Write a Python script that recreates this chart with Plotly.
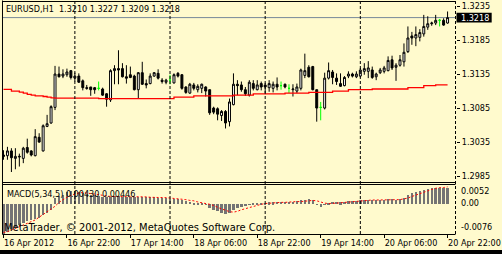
import plotly.graph_objects as go

# ---------------- data ----------------
symbol = "EURUSD,H1"

opens = [1.3016, 1.3015, 1.3022, 1.3011, 1.3013, 1.3011, 1.3027, 1.3022, 1.3015, 1.3042,
         1.3022, 1.3058, 1.3063, 1.3086, 1.3135, 1.3132, 1.3134, 1.3140, 1.3129, 1.3132,
         1.3125, 1.3115, 1.3116, 1.3115, 1.3114, 1.3113, 1.3106, 1.3097, 1.3140, 1.3143,
         1.3143, 1.3131, 1.3134, 1.3132, 1.3112, 1.3137, 1.3121, 1.3121, 1.3132, 1.3136,
         1.3126, 1.3123, 1.3126, 1.3122, 1.3136, 1.3134, 1.3116, 1.3107, 1.3119, 1.3112,
         1.3114, 1.3116, 1.3112, 1.3085, 1.3084, 1.3074, 1.3080, 1.3065, 1.3090, 1.3120,
         1.3119, 1.3112, 1.3104, 1.3121, 1.3112, 1.3121, 1.3119, 1.3115, 1.3114, 1.3120,
         1.3118, 1.3120, 1.3114, 1.3112, 1.3110, 1.3114, 1.3133, 1.3145, 1.3146, 1.3112,
         1.3086, 1.3085, 1.3129, 1.3138, 1.3129, 1.3121, 1.3118, 1.3132, 1.3135, 1.3131,
         1.3132, 1.3139, 1.3139, 1.3141, 1.3131, 1.3137, 1.3139, 1.3140, 1.3156, 1.3145,
         1.3148, 1.3153, 1.3168, 1.3191, 1.3188, 1.3189, 1.3194, 1.3204, 1.3209, 1.3210,
         1.3214, 1.3214, 1.3210]

highs = [1.3023, 1.3028, 1.3026, 1.3026, 1.3018, 1.3028, 1.3040, 1.3023, 1.3054, 1.3048,
         1.3061, 1.3075, 1.3089, 1.3147, 1.3146, 1.3142, 1.3143, 1.3141, 1.3137, 1.3136,
         1.3127, 1.3119, 1.3116, 1.3116, 1.3124, 1.3115, 1.3107, 1.3142, 1.3148, 1.3170,
         1.3151, 1.3148, 1.3146, 1.3134, 1.3138, 1.3153, 1.3127, 1.3136, 1.3138, 1.3142,
         1.3129, 1.3128, 1.3134, 1.3136, 1.3138, 1.3135, 1.3117, 1.3122, 1.3122, 1.3120,
         1.3121, 1.3117, 1.3112, 1.3087, 1.3086, 1.3082, 1.3082, 1.3099, 1.3136, 1.3126,
         1.3124, 1.3116, 1.3126, 1.3126, 1.3126, 1.3124, 1.3122, 1.3126, 1.3124, 1.3130,
         1.3124, 1.3121, 1.3120, 1.3120, 1.3121, 1.3143, 1.3165, 1.3148, 1.3147, 1.3112,
         1.3094, 1.3137, 1.3152, 1.3141, 1.3136, 1.3136, 1.3132, 1.3139, 1.3137, 1.3139,
         1.3144, 1.3151, 1.3154, 1.3146, 1.3137, 1.3144, 1.3147, 1.3161, 1.3162, 1.3151,
         1.3163, 1.3180, 1.3205, 1.3197, 1.3205, 1.3201, 1.3222, 1.3220, 1.3212, 1.3222,
         1.3216, 1.3217, 1.3227]

lows = [1.3009, 1.3009, 1.2991, 1.2995, 1.2999, 1.3004, 1.3018, 1.3014, 1.3014, 1.3034,
        1.3021, 1.3057, 1.3062, 1.3082, 1.3130, 1.3129, 1.3131, 1.3127, 1.3124, 1.3122,
        1.3111, 1.3112, 1.3103, 1.3106, 1.3111, 1.3103, 1.3087, 1.3094, 1.3120, 1.3120,
        1.3130, 1.3121, 1.3129, 1.3111, 1.3099, 1.3119, 1.3114, 1.3120, 1.3131, 1.3127,
        1.3121, 1.3120, 1.3120, 1.3121, 1.3130, 1.3112, 1.3106, 1.3106, 1.3111, 1.3108,
        1.3107, 1.3102, 1.3075, 1.3076, 1.3067, 1.3066, 1.3055, 1.3058, 1.3089, 1.3104,
        1.3109, 1.3103, 1.3102, 1.3111, 1.3111, 1.3111, 1.3107, 1.3109, 1.3108, 1.3111,
        1.3112, 1.3114, 1.3107, 1.3102, 1.3107, 1.3111, 1.3129, 1.3130, 1.3111, 1.3065,
        1.3067, 1.3083, 1.3127, 1.3120, 1.3119, 1.3116, 1.3117, 1.3129, 1.3130, 1.3129,
        1.3130, 1.3134, 1.3129, 1.3128, 1.3126, 1.3135, 1.3136, 1.3139, 1.3141, 1.3125,
        1.3146, 1.3146, 1.3166, 1.3178, 1.3176, 1.3183, 1.3190, 1.3200, 1.3206, 1.3207,
        1.3205, 1.3206, 1.3209]

closes = [1.3014, 1.3022, 1.3012, 1.3014, 1.3014, 1.3026, 1.3020, 1.3016, 1.3043, 1.3035,
          1.3059, 1.3062, 1.3087, 1.3135, 1.3131, 1.3135, 1.3138, 1.3130, 1.3132, 1.3123,
          1.3115, 1.3114, 1.3112, 1.3112, 1.3114, 1.3104, 1.3098, 1.3140, 1.3143, 1.3141,
          1.3131, 1.3129, 1.3130, 1.3112, 1.3137, 1.3120, 1.3119, 1.3132, 1.3137, 1.3129,
          1.3124, 1.3126, 1.3126, 1.3134, 1.3132, 1.3114, 1.3108, 1.3120, 1.3114, 1.3117,
          1.3120, 1.3110, 1.3078, 1.3079, 1.3076, 1.3080, 1.3063, 1.3094, 1.3120, 1.3118,
          1.3112, 1.3106, 1.3123, 1.3114, 1.3119, 1.3116, 1.3116, 1.3121, 1.3120, 1.3116,
          1.3118, 1.3116, 1.3114, 1.3113, 1.3116, 1.3141, 1.3140, 1.3131, 1.3112, 1.3085,
          1.3086, 1.3129, 1.3140, 1.3130, 1.3124, 1.3117, 1.3130, 1.3135, 1.3132, 1.3135,
          1.3141, 1.3143, 1.3144, 1.3130, 1.3135, 1.3141, 1.3144, 1.3155, 1.3144, 1.3148,
          1.3156, 1.3167, 1.3188, 1.3188, 1.3193, 1.3196, 1.3205, 1.3209, 1.3210, 1.3214,
          1.3214, 1.3207, 1.3218]

ma_values = [1.31125, 1.31125, 1.3110, 1.3110, 1.31085, 1.3107, 1.3105, 1.3104, 1.3103, 1.3103,
             1.3102, 1.3101, 1.3100, 1.30995, 1.30995, 1.30995, 1.30995, 1.30995, 1.30995, 1.30995,
             1.30995, 1.30995, 1.30995, 1.30995, 1.3099, 1.3099, 1.3099, 1.3099, 1.3099, 1.3099,
             1.3099, 1.3099, 1.3099, 1.3099, 1.3099, 1.3099, 1.3099, 1.3099, 1.3099, 1.3099,
             1.3099, 1.3099, 1.3099, 1.3101, 1.3101, 1.3101, 1.3101, 1.3101, 1.3103, 1.3103,
             1.3103, 1.3103, 1.3103, 1.3103, 1.3103, 1.3103, 1.3103, 1.3103, 1.3104, 1.3104,
             1.3104, 1.3104, 1.3104, 1.3106, 1.3106, 1.3106, 1.3106, 1.3106, 1.3106, 1.3106,
             1.3106, 1.3107, 1.3107, 1.3107, 1.3107, 1.3107, 1.3107, 1.3108, 1.3108, 1.3108,
             1.3108, 1.3108, 1.3108, 1.3110, 1.3110, 1.3110, 1.3110, 1.3112, 1.3112, 1.3112,
             1.3112, 1.3112, 1.3112, 1.3113, 1.3113, 1.3113, 1.3113, 1.3113, 1.3113, 1.3113,
             1.3113, 1.3113, 1.3115, 1.3115, 1.3115, 1.3115, 1.3118, 1.3118, 1.3118, 1.3119,
             1.3119, 1.3119, 1.3119]

macd_hist = [-0.0076, -0.0071, -0.0064, -0.0058, -0.0054, -0.0049, -0.0043, -0.0041, -0.0037, -0.0035,
             -0.0028, -0.0021, -0.0015, 0.0016, 0.0021, 0.0025, 0.0031, 0.0034, 0.0034, 0.0031,
             0.0029, 0.0027, 0.0025, 0.0023, 0.0021, 0.0020, 0.0018, 0.0020, 0.0021, 0.0021,
             0.0020, 0.0020, 0.0019, 0.0018, 0.0018, 0.0019, 0.0018, 0.0018, 0.0018, 0.0017,
             0.0016, 0.0015, 0.0014, 0.0014, 0.0013, 0.0011, 0.0008, 0.0006, 0.0003, 0.0002,
             0.0001, -0.0001, -0.0009, -0.0015, -0.0018, -0.0021, -0.0026, -0.0021, -0.0014, -0.0009,
             -0.0006, -0.0004, -0.0001, 0.0001, 0.0003, 0.0004, 0.0004, 0.0005, 0.0005, 0.0006,
             0.0006, 0.0007, 0.0007, 0.0007, 0.0008, 0.0010, 0.0012, 0.0014, 0.0010, -0.0001,
             -0.0007, -0.0001, 0.0004, 0.0006, 0.0006, 0.0005, 0.0006, 0.0008, 0.0009, 0.0009,
             0.0010, 0.0012, 0.0012, 0.0012, 0.0011, 0.0011, 0.0011, 0.0013, 0.0013, 0.0012,
             0.0013, 0.0016, 0.0023, 0.0028, 0.0031, 0.0033, 0.0037, 0.0040, 0.0042, 0.0043,
             0.0043, 0.0042, 0.0043]

macd_signal = [-0.0072, -0.0070, -0.0066, -0.0062, -0.0058, -0.0054, -0.0050, -0.0046, -0.0040, -0.0033,
               -0.0026, -0.0019, -0.0012, -0.0005, 0.0005, 0.0012, 0.0018, 0.0023, 0.0027, 0.0029,
               0.0030, 0.0029, 0.0028, 0.0026, 0.0025, 0.0023, 0.0021, 0.0020, 0.0020, 0.0020,
               0.0020, 0.0020, 0.0020, 0.0019, 0.0019, 0.0019, 0.0019, 0.0018, 0.0018, 0.0018,
               0.0017, 0.0017, 0.0016, 0.0015, 0.0014, 0.0014, 0.0012, 0.0010, 0.0009, 0.0006,
               0.0004, 0.0003, 0.0000, -0.0003, -0.0008, -0.0012, -0.0015, -0.0019, -0.0020, -0.0018,
               -0.0014, -0.0011, -0.0008, -0.0004, -0.0002, 0.0000, 0.0002, 0.0003, 0.0003, 0.0004,
               0.0005, 0.0005, 0.0006, 0.0006, 0.0007, 0.0007, 0.0008, 0.0009, 0.0010, 0.0009,
               0.0005, 0.0003, 0.0002, 0.0002, 0.0003, 0.0004, 0.0005, 0.0006, 0.0007, 0.0008,
               0.0009, 0.0009, 0.0010, 0.0011, 0.0011, 0.0011, 0.0011, 0.0012, 0.0012, 0.0012,
               0.0012, 0.0014, 0.0016, 0.0020, 0.0024, 0.0028, 0.0031, 0.0035, 0.0038, 0.0041,
               0.0043, 0.0043, 0.00446]

tick_bars = [0, 16, 32, 48, 64, 80, 96, 112]
tick_labels = ["16 Apr 2012", "16 Apr 22:00", "17 Apr 14:00", "18 Apr 06:00",
               "18 Apr 22:00", "19 Apr 14:00", "20 Apr 06:00", "20 Apr 22:00"]
day_breaks = [18, 42, 66, 90, 114]
price_ticks = [1.3235, 1.3185, 1.3135, 1.3085, 1.3035, 1.2985]
macd_ticks = [0.0052, 0.0, -0.0076]
macd_tick_labels = ["0.0052", "0.00", "-0.0076"]

n = len(closes)
assert len(opens) == n and len(highs) == n and len(lows) == n
assert len(ma_values) == n and len(macd_hist) == n and len(macd_signal) == n
idx = list(range(n))
bid = closes[-1]

# ---------------- layout geometry ----------------
BG = "#FFFACD"
FONT = "DejaVu Sans Condensed, Liberation Sans, Arial, sans-serif"
W, H = 502, 254
ML, MR, MT, MB = 2, 42, 1, 20
PW = W - ML - MR
PH = H - MT - MB


def py(p):  # pixel row -> paper y
    return (H - MB - p) / PH


def px(p):  # pixel column -> paper x
    return (p - ML) / PW


main_dom = [py(182), 1.0]
macd_dom = [0.0, py(184)]
y_range = [1.29763, 1.32424]
macd_range = [-0.0076, 0.0052]
x_range = [-0.375, -0.375 + PW / 4.0]

fig = go.Figure()

normal = [i for i in idx if abs(opens[i] - closes[i]) > 1e-9]
doji = [i for i in idx if abs(opens[i] - closes[i]) <= 1e-9]

fig.add_trace(go.Candlestick(
    x=normal,
    open=[opens[i] for i in normal], high=[highs[i] for i in normal],
    low=[lows[i] for i in normal], close=[closes[i] for i in normal],
    increasing=dict(line=dict(color="black", width=1), fillcolor="white"),
    decreasing=dict(line=dict(color="black", width=1), fillcolor="black"),
    whiskerwidth=0, showlegend=False, hoverinfo="skip", xaxis="x", yaxis="y"))
fig.add_trace(go.Candlestick(
    x=doji,
    open=[opens[i] for i in doji], high=[highs[i] for i in doji],
    low=[lows[i] for i in doji], close=[closes[i] for i in doji],
    increasing=dict(line=dict(color="#00FF00", width=1), fillcolor="#00FF00"),
    decreasing=dict(line=dict(color="#00FF00", width=1), fillcolor="#00FF00"),
    whiskerwidth=0, showlegend=False, hoverinfo="skip", xaxis="x", yaxis="y"))

fig.add_trace(go.Scatter(x=idx, y=ma_values, mode="lines",
                         line=dict(color="#FF0000", width=1.3, shape="hv"),
                         showlegend=False, hoverinfo="skip", xaxis="x", yaxis="y"))

fig.add_trace(go.Bar(x=idx, y=macd_hist, marker=dict(color="#747474", line=dict(width=0)),
                     width=0.6, showlegend=False, hoverinfo="skip", xaxis="x", yaxis="y2"))
fig.add_trace(go.Scatter(x=idx, y=macd_signal, mode="lines",
                         line=dict(color="#FF0000", width=1, dash="2px,2px"),
                         showlegend=False, hoverinfo="skip", xaxis="x", yaxis="y2"))

shapes = []
# bid line
shapes.append(dict(type="line", xref="x domain", x0=0, x1=1, yref="y", y0=bid, y1=bid,
                   line=dict(color="#778899", width=1), layer="below"))
# day separators
for d in day_breaks:
    shapes.append(dict(type="line", xref="x", x0=d, x1=d, yref="paper", y0=py(234), y1=py(1),
                       line=dict(color="black", width=1, dash="3px,2px"), layer="above"))
# window borders
border = dict(color="black", width=1)
shapes.append(dict(type="line", xref="paper", x0=px(2.5), x1=px(2.5), yref="paper",
                   y0=py(234.5), y1=py(0.5), line=border))
for row in (1.5, 182.5, 184.5, 234.5):
    shapes.append(dict(type="line", xref="paper", x0=px(2.5), x1=px(459.5), yref="paper",
                       y0=py(row), y1=py(row), line=border))
# black strip at the very bottom
shapes.append(dict(type="rect", xref="paper", x0=px(-5), x1=px(510), yref="paper",
                   y0=py(260), y1=py(250), fillcolor="black", line=dict(width=0)))
# bid price box on the right scale
ppu = 181.0 / (y_range[1] - y_range[0])
shapes.append(dict(type="rect", xref="paper", x0=px(460.5), x1=px(496), yref="y",
                   y0=bid - 4.8 / ppu, y1=bid + 4.8 / ppu, fillcolor="black", line=dict(width=0)))

tf = dict(family=FONT, size=9, color="black")
annotations = [
    dict(text=f"{symbol}\u00a0 {opens[-1]:.4f} {highs[-1]:.4f} {lows[-1]:.4f} {closes[-1]:.4f}",
         xref="paper", yref="paper", x=0, y=1, xanchor="left", yanchor="top",
         xshift=2, yshift=-1, showarrow=False, font=tf),
    dict(text=f"{bid:.4f}", xref="paper", yref="y", x=px(464), y=bid, xanchor="left",
         yanchor="middle", showarrow=False, borderpad=0,
         font=dict(family=FONT, size=9, color="white")),
    dict(text=f"MACD(5,34,5) {macd_hist[-1]:.5f} {macd_signal[-1]:.5f}",
         xref="paper", yref="paper", x=0, y=macd_dom[1], xanchor="left", yanchor="top",
         xshift=3, yshift=-3, showarrow=False, font=tf),
    dict(text="MetaTrader, © 2001-2012, MetaQuotes Software Corp.",
         xref="paper", yref="paper", x=0, y=0, xanchor="left", yanchor="bottom",
         xshift=0, yshift=-2, showarrow=False, font=dict(family=FONT, size=11, color="black")),
]
macd_shift = [-7, 1, 7]
for v, t, s in zip(macd_ticks, macd_tick_labels, macd_shift):
    annotations.append(dict(text=t, xref="paper", yref="y2", x=1, y=v, xanchor="left",
                            yanchor="middle", xshift=3, yshift=s, showarrow=False, font=tf))

fig.update_layout(
    width=W, height=H,
    margin=dict(l=ML, r=MR, t=MT, b=MB, pad=0),
    paper_bgcolor=BG, plot_bgcolor=BG,
    showlegend=False, hovermode=False,
    bargap=0,
    xaxis=dict(range=x_range, anchor="y2", tickvals=tick_bars, ticktext=tick_labels,
               ticks="outside", ticklen=3, tickwidth=1, tickcolor="black",
               ticklabelposition="outside right", ticklabeloverflow="allow",
               tickfont=tf, showgrid=False, zeroline=False, showline=False,
               rangeslider=dict(visible=False), fixedrange=True),
    yaxis=dict(domain=main_dom, range=y_range, side="right", anchor="x",
               tickvals=price_ticks, ticktext=[f"{v:.4f}" for v in price_ticks],
               ticks="outside", ticklen=3, tickwidth=1, tickcolor="black",
               tickfont=tf, showgrid=False, zeroline=False, showline=False, fixedrange=True),
    yaxis2=dict(domain=macd_dom, range=macd_range, side="right", anchor="x",
                showticklabels=False, ticks="", showgrid=False, zeroline=False,
                showline=False, fixedrange=True),
    shapes=shapes,
    annotations=annotations,
)

fig.write_html("out.html")
